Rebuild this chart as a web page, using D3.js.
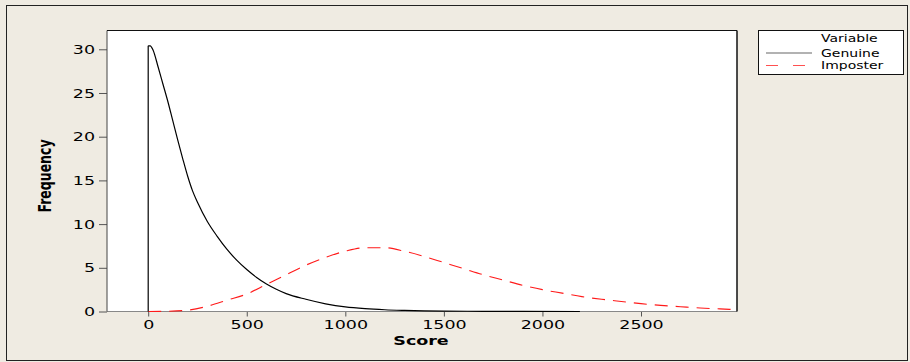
<!DOCTYPE html>
<html>
<head>
<meta charset="utf-8">
<script src="https://cdn.jsdelivr.net/npm/d3@7"></script>
<style>
  body { margin: 0; background: #efebe2; }
  svg { display: block; font-family: "DejaVu Sans", Verdana, sans-serif; }
</style>
</head>
<body>
<script>
const w = 910
const h = 362
const sx = 1.4 // the original picture is stretched sideways

// data
const genuineScore = [0, 0, 10, 25, 50, 75, 100, 125, 150, 175, 200, 225, 250, 300, 350, 400, 450, 500, 550, 600, 650, 700, 800, 900, 1000, 1100, 1200, 1300, 1400, 1500, 1700, 1900, 2190]
const genuineFreq = [0, 30.4, 30.4, 29.9, 28.0, 26.0, 24.0, 21.8, 19.6, 17.5, 15.5, 13.8, 12.5, 10.3, 8.6, 7.1, 5.85, 4.8, 3.9, 3.15, 2.55, 2.05, 1.4, 0.88, 0.52, 0.32, 0.2, 0.13, 0.08, 0.05, 0.02, 0.01, 0]
const imposterScore = [0, 100, 200, 300, 400, 500, 600, 700, 800, 900, 1000, 1100, 1200, 1300, 1400, 1500, 1600, 1700, 1800, 1900, 2000, 2100, 2200, 2300, 2400, 2500, 2600, 2700, 2800, 2900, 2990]
const imposterFreq = [0, 0.03, 0.15, 0.6, 1.3, 2.0, 3.1, 4.2, 5.3, 6.2, 6.9, 7.3, 7.3, 6.9, 6.3, 5.6, 4.9, 4.2, 3.6, 3.0, 2.5, 2.1, 1.7, 1.4, 1.15, 0.9, 0.7, 0.55, 0.4, 0.3, 0.2]
const xTicks = [0, 500, 1000, 1500, 2000, 2500]
const yTicks = [0, 5, 10, 15, 20, 25, 30]
const seriesNames = ['Genuine', 'Imposter']

const pLeft = 107, pRight = 737, pTop = 30.5, pBottom = 311.5

const svg = d3.select('body').append('svg').attr('width', w).attr('height', h)

svg.append('rect').attr('x', 6.5).attr('y', 5.5).attr('width', 901).attr('height', 355)
  .attr('fill', '#efebe2').attr('stroke', '#222')

svg.append('rect').attr('x', pLeft).attr('y', pTop).attr('width', pRight - pLeft).attr('height', pBottom - pTop)
  .attr('fill', 'white')

const x = d3.scaleLinear().domain([-209, 2987]).range([pLeft, pRight])
const y = d3.scaleLinear().domain([0, 32.15]).range([pBottom, pTop])

// axes
const xAxis = svg.append('g').attr('transform', 'translate(0,' + pBottom + ')')
  .call(d3.axisBottom(x).tickValues(xTicks).tickFormat(d3.format('d')).tickSize(5).tickPadding(4).tickSizeOuter(0))
const yAxis = svg.append('g').attr('transform', 'translate(' + pLeft + ',0)')
  .call(d3.axisLeft(y).tickValues(yTicks).tickSize(8).tickPadding(4).tickSizeOuter(0))

;[xAxis, yAxis].forEach(g => {
  g.select('.domain').remove()
  g.selectAll('line').attr('stroke', '#555')
  g.selectAll('text').attr('fill', '#000').style('font-size', '12.5px')
    .attr('font-family', '"DejaVu Sans", Verdana, sans-serif')
})
xAxis.selectAll('text').attr('transform', 'scale(' + sx + ',1)')
yAxis.selectAll('text').attr('transform', 'scale(' + sx + ',1)').attr('x', -12 / sx)

// frame
svg.append('line').attr('x1', pLeft).attr('x2', pRight).attr('y1', pBottom).attr('y2', pBottom).attr('stroke', '#888')
svg.append('line').attr('x1', pLeft).attr('x2', pLeft).attr('y1', pTop).attr('y2', pBottom).attr('stroke', '#444')
svg.append('line').attr('x1', pLeft).attr('x2', pRight).attr('y1', pTop).attr('y2', pTop).attr('stroke', '#111')
svg.append('line').attr('x1', pRight).attr('x2', pRight).attr('y1', pTop).attr('y2', pBottom).attr('stroke', '#111').attr('stroke-width', 1.5)

// lines
const smooth = d3.line().x(d => x(d[0])).y(d => y(d[1])).curve(d3.curveMonotoneX)
const straight = d3.line().x(d => x(d[0])).y(d => y(d[1]))
svg.append('clipPath').attr('id', 'clip').append('rect')
  .attr('x', pLeft).attr('y', pTop - 2).attr('width', pRight - pLeft).attr('height', pBottom - pTop + 3)

svg.append('path').datum(d3.zip(imposterScore, imposterFreq))
  .attr('d', smooth).attr('fill', 'none').attr('stroke', '#ff1a1a').attr('stroke-width', 1.1)
  .attr('stroke-dasharray', '13,8').attr('clip-path', 'url(#clip)')

const genuine = d3.zip(genuineScore, genuineFreq)
// the jump at score 0 is a straight rise, the rest is a smooth decay
svg.append('path').datum(genuine.slice(0, 2))
  .attr('d', straight).attr('fill', 'none').attr('stroke', '#000').attr('stroke-width', 1.2)
svg.append('path').datum(genuine.slice(1))
  .attr('d', smooth).attr('fill', 'none').attr('stroke', '#000').attr('stroke-width', 1.2)
  .attr('clip-path', 'url(#clip)')

// axis titles
svg.append('text').attr('transform', 'translate(421,345) scale(' + sx + ',1)')
  .attr('text-anchor', 'middle').attr('font-weight', 'bold').style('font-size', '12.5px').text('Score')
svg.append('text').attr('transform', 'translate(51,176) scale(' + sx + ',1) rotate(-90)')
  .attr('text-anchor', 'middle').attr('font-weight', 'bold').style('font-size', '12.5px').text('Frequency')

// legend
const lg = svg.append('g')
lg.append('rect').attr('x', 758.5).attr('y', 30.5).attr('width', 145).attr('height', 44)
  .attr('fill', 'white').attr('stroke', '#111')
lg.append('text').attr('transform', 'translate(821,42) scale(' + sx + ',1)').style('font-size', '10px').text('Variable')
const styles = [{ stroke: '#666', dash: null }, { stroke: '#ff5050', dash: '12,15' }]
seriesNames.forEach((name, i) => {
  const ly = 53 + i * 12.5
  lg.append('line').attr('x1', 766).attr('x2', 812).attr('y1', ly).attr('y2', ly)
    .attr('stroke', styles[i].stroke).attr('stroke-width', 1.2).attr('stroke-dasharray', styles[i].dash)
  lg.append('text').attr('transform', 'translate(821,' + (ly + 3.5) + ') scale(' + sx + ',1)')
    .style('font-size', '10px').text(name)
})
</script>
</body>
</html>
